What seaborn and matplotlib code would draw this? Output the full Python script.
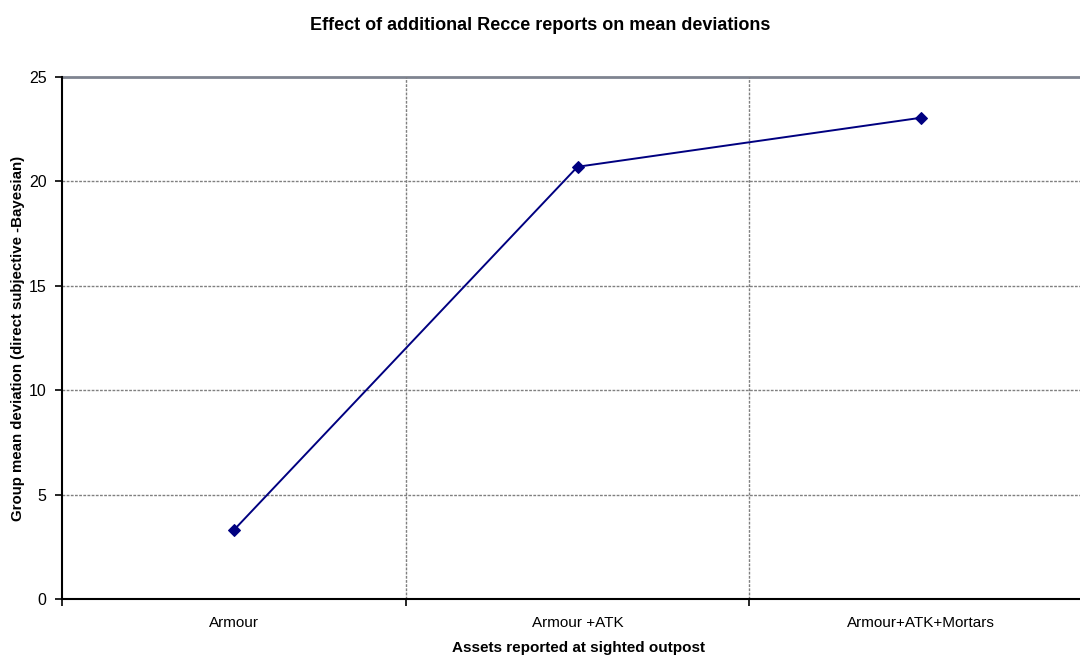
import matplotlib
matplotlib.use("Agg")
import matplotlib.pyplot as plt
import seaborn as sns
import pandas as pd

categories = ["Armour", "Armour +ATK", "Armour+ATK+Mortars"]
mean_deviation = [3.3, 20.7, 23.05]
y_ticks = [0, 5, 10, 15, 20, 25]

sns.set_style("white")
plt.rcParams["font.family"] = ["Liberation Sans", "DejaVu Sans"]
plt.rcParams["text.color"] = "black"
plt.rcParams["axes.labelcolor"] = "black"
plt.rcParams["xtick.color"] = "black"
plt.rcParams["ytick.color"] = "black"

df = pd.DataFrame({"pos": range(len(categories)), "value": mean_deviation})

W, H = 1080, 657
fig = plt.figure(figsize=(W / 100, H / 100), dpi=100)
left, right, top, bottom = 62, 1093, 77, 599
ax = fig.add_axes([left / W, 1 - bottom / H, (right - left) / W, (bottom - top) / H])

sns.lineplot(data=df, x="pos", y="value", ax=ax, color="#000080", linewidth=1.4,
             marker="D", markersize=6, markeredgecolor="#000080")

ax.set_xlim(-0.5, len(categories) - 0.5)
ax.set_ylim(0, 25)
ax.set_yticks(y_ticks)
ax.set_yticklabels([str(t) for t in y_ticks], fontsize=11.5)

# category boundaries carry the ticks and vertical gridlines
bounds = [i + 0.5 for i in range(len(categories) - 1)]
ax.set_xticks([-0.5] + bounds)
ax.set_xticklabels([])
for i, c in enumerate(categories):
    ax.text(i, -0.032, c, transform=ax.get_xaxis_transform(), ha="center", va="top", fontsize=11)

for y in y_ticks[1:-1]:
    ax.axhline(y, color="#808080", linestyle=(0, (2, 1)), linewidth=1.0, zorder=0)
ax.axhline(25, color="#7f8490", linewidth=2.0, zorder=0, clip_on=False)
for x in bounds:
    ax.axvline(x, color="#808080", linestyle=(0, (2, 1)), linewidth=1.0, zorder=0)

for s in ["top", "right"]:
    ax.spines[s].set_visible(False)
for s in ["left", "bottom"]:
    ax.spines[s].set_color("black")
    ax.spines[s].set_linewidth(1.5)

ax.tick_params(axis="both", direction="out", length=5, width=1.2, color="black", left=True, bottom=True, pad=6)

ax.set_xlabel("")
ax.set_ylabel("")
fig.text(579 / W, 1 - 648 / H, "Assets reported at sighted outpost",
         fontsize=11, fontweight="bold", ha="center", va="center")
fig.text(18 / W, 1 - 338 / H, "Group mean deviation (direct subjective -Bayesian)",
         fontsize=10.8, fontweight="bold", ha="center", va="center", rotation=90)
fig.suptitle("Effect of additional Recce reports on mean deviations", fontsize=13, fontweight="bold",
             y=1 - 26 / H, va="center")

fig.savefig("out.png", dpi=100)
